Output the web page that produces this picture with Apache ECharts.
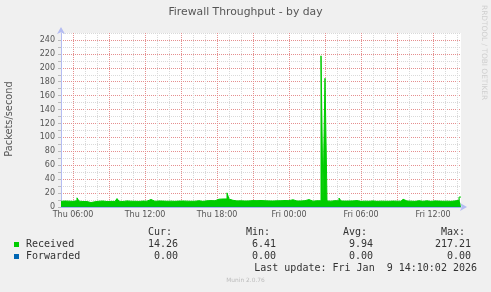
<!DOCTYPE html>
<html><head><meta charset="utf-8">
<script src="https://cdn.jsdelivr.net/npm/echarts@6/dist/echarts.min.js"></script>
<style>html,body{margin:0;padding:0;background:#f0f0f0}#c{width:491px;height:292px}</style>
</head><body><div id="c"></div>
<script>
// ---- data ----
const startMinute = 300;   // Thu 05:00 (minutes since Thu 00:00)
const stepMinutes = 10;
const endMinute = 2300;    // Fri 14:20
const received = [
  8.2, 8.6, 7.9, 8.4, 8.8, 8.1,      // Thu 05
  8.5, 9.0, 13.2, 8.4, 7.9, 8.3,     // Thu 06
  7.8, 7.2, 6.41, 6.6, 7.5, 8.1,     // Thu 07
  8.3, 7.9, 8.6, 8.2, 7.8, 8.4,      // Thu 08
  8.1, 8.5, 8.0, 8.7, 12.1, 8.3,     // Thu 09
  7.9, 8.4, 8.8, 8.1, 8.3, 7.7,      // Thu 10
  8.2, 8.6, 8.0, 7.8, 8.5, 8.9,      // Thu 11
  8.4, 8.1, 10.8, 8.6, 8.2, 8.0,     // Thu 12
  8.7, 8.3, 8.5, 9.1, 8.2, 7.9,      // Thu 13
  8.4, 8.8, 8.1, 10.2, 8.5, 8.3,     // Thu 14
  8.6, 8.0, 8.4, 8.9, 8.2, 8.7,      // Thu 15
  8.3, 8.8, 9.0, 8.5, 8.1, 8.6,      // Thu 16
  8.9, 8.4, 9.2, 8.7, 9.0, 9.3,      // Thu 17
  11.2, 11.8, 11.5, 12.0, 11.6, 20.3,// Thu 18
  11.4, 9.6, 9.1, 8.8, 9.3, 8.9,     // Thu 19
  9.0, 8.6, 9.4, 8.8, 11.0, 9.2,     // Thu 20
  8.7, 9.1, 8.9, 9.3, 8.5, 9.0,      // Thu 21
  9.4, 8.8, 9.1, 8.6, 9.2, 8.9,      // Thu 22
  8.6, 9.0, 8.7, 9.3, 8.8, 9.1,      // Thu 23
  9.2, 10.4, 8.9, 8.6, 9.0, 8.7,     // Fri 00
  8.8, 9.1, 8.5, 10.6, 8.9, 8.4,     // Fri 01
  8.7, 9.0, 8.6, 8.9, 217.21, 8.5,   // Fri 02
  185.0, 8.8, 8.4, 8.7, 9.1, 8.6,    // Fri 03
  8.9, 12.8, 8.7, 8.5, 9.0, 8.6,     // Fri 04
  8.3, 8.8, 8.6, 9.2, 8.5, 8.1,      // Fri 05
  8.7, 8.4, 8.9, 8.2, 8.6, 8.8,      // Fri 06
  8.5, 8.1, 8.7, 8.4, 8.9, 8.3,      // Fri 07
  8.6, 8.2, 8.8, 8.5, 8.0, 8.4,      // Fri 08
  8.7, 8.3, 8.9, 11.2, 8.6, 8.2,     // Fri 09
  8.4, 8.8, 8.1, 8.6, 9.0, 8.5,      // Fri 10
  8.2, 8.7, 8.9, 8.4, 8.1, 8.6,      // Fri 11
  8.8, 8.3, 8.5, 8.9, 8.2, 8.6,      // Fri 12
  8.4, 8.7, 8.1, 8.5, 8.8, 8.3,      // Fri 13
  9.6, 14.26, 14.26                  // Fri 14
];
const forwardedTimes = [300, 2300];
const forwardedValues = [0, 0];
const xLabelMinutes = [360, 720, 1080, 1440, 1800, 2160];
const xLabelTexts = ['Thu 06:00', 'Thu 12:00', 'Thu 18:00', 'Fri 00:00', 'Fri 06:00', 'Fri 12:00'];
const yLabelValues = [0, 20, 40, 60, 80, 100, 120, 140, 160, 180, 200, 220, 240];
const seriesNames = ['Received', 'Forwarded'];
const seriesColors = ['#00cc00', '#0066b3'];
const statHeaders = ['Cur:', 'Min:', 'Avg:', 'Max:'];
const statValues = [
  ['14.26', '6.41', '9.94', '217.21'],
  ['0.00', '0.00', '0.00', '0.00']
];
const titleText = 'Firewall Throughput - by day';
const yAxisTitle = 'Packets/second';
const lastUpdate = 'Last update: Fri Jan  9 14:10:02 2026';
const footer = 'Munin 2.0.76';
const sideText = 'RRDTOOL / TOBI OETIKER';

// ---- build ----
const recvData = received.map((v, i) => [startMinute + i * stepMinutes, v]);
const fwdData = forwardedTimes.map((t, i) => [t, forwardedValues[i]]);
const RED = '#e58f8f', GRAY = '#d9d9d9';
const mono = '"DejaVu Sans Mono", monospace';
const sans = '"DejaVu Sans", sans-serif';
const statHeaderX = [148, 246, 343, 441];
const statRightX = [178, 276, 373, 471];
const rowY = [244.5, 256.5];

const graphics = [
  {type:'text', x:245.5, y:12, style:{text:titleText, font:'10.8px ' + sans, fill:'#555', align:'center', verticalAlign:'middle'}},
  {type:'text', x:9.5, y:119, rotation:Math.PI/2, style:{text:yAxisTitle, font:'9.8px ' + sans, fill:'#555', align:'center', verticalAlign:'middle'}},
  {type:'text', x:484, y:5, rotation:-Math.PI/2, style:{text:sideText, font:'7.4px ' + sans, fill:'#cfcfcf', align:'left', verticalAlign:'middle'}},
  {type:'text', x:477, y:268.5, style:{text:lastUpdate, font:'10px ' + mono, fill:'#333', align:'right', verticalAlign:'middle'}},
  {type:'text', x:245.5, y:280.5, style:{text:footer, font:'5.9px ' + sans, fill:'#bbb', align:'center', verticalAlign:'middle'}}
];
statHeaders.forEach((h, k) => graphics.push({type:'text', x:statHeaderX[k], y:232.5, style:{text:h, font:'10px ' + mono, fill:'#333', align:'left', verticalAlign:'middle'}}));
seriesNames.forEach((n, r) => {
  graphics.push({type:'rect', shape:{x:14, y:rowY[r]-2.5, width:5, height:5}, style:{fill:seriesColors[r]}});
  graphics.push({type:'text', x:26, y:rowY[r], style:{text:n, font:'10px ' + mono, fill:'#333', align:'left', verticalAlign:'middle'}});
  statValues[r].forEach((v, k) => graphics.push({type:'text', x:statRightX[k], y:rowY[r], style:{text:v, font:'10px ' + mono, fill:'#333', align:'right', verticalAlign:'middle'}}));
});

const chart = echarts.init(document.getElementById('c'), null, {renderer:'canvas'});
chart.setOption({
  animation:false,
  backgroundColor:'#f0f0f0',
  grid:{left:61, right:30, top:33, bottom:85, show:true, backgroundColor:'#ffffff', borderWidth:0},
  xAxis:{
    type:'value', min:startMinute, max:endMinute, interval:60,
    axisLine:{show:true, lineStyle:{color:'#b4bcf2', width:1}, symbol:['none','arrow'], symbolSize:[6,7], symbolOffset:[0,6]},
    axisTick:{show:false},
    axisLabel:{margin:4, color:'#555', fontSize:8, fontFamily:sans, hideOverlap:false,
      formatter:v => { const k = xLabelMinutes.indexOf(v); return k >= 0 ? xLabelTexts[k] : ''; }},
    splitLine:{show:true, showMaxLine:false, lineStyle:{color:[GRAY, RED, GRAY], type:[1,1], width:1}}
  },
  yAxis:{
    type:'value', min:0, max:250, interval:10,
    axisLine:{show:true, lineStyle:{color:'#b4bcf2', width:1}, symbol:['none','arrow'], symbolSize:[6,7], symbolOffset:[0,6]},
    axisTick:{show:true, length:3, lineStyle:{color:'#bbb'}},
    axisLabel:{margin:6, color:'#555', fontSize:8, fontFamily:sans, showMaxLabel:false,
      formatter:v => yLabelValues.indexOf(v) >= 0 ? String(v) : ''},
    splitLine:{show:true, lineStyle:{color:[RED, GRAY], type:[1,1], width:1}}
  },
  series:[
    {name:seriesNames[0], type:'line', step:'end', data:recvData, showSymbol:false,
     lineStyle:{width:1, color:seriesColors[0]}, areaStyle:{color:seriesColors[0], opacity:1}, z:3},
    {name:seriesNames[1], type:'line', data:fwdData, showSymbol:false,
     lineStyle:{width:1, color:seriesColors[1], opacity:0.3}, z:4}
  ],
  graphic:graphics
});
</script></body></html>
